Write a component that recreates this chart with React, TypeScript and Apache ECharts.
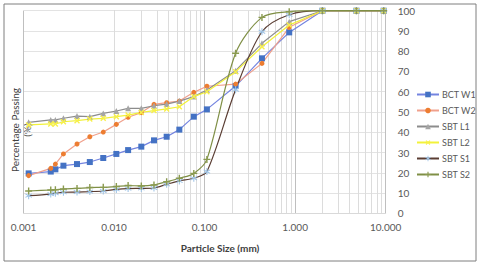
import React, { useEffect, useRef } from "react";
import * as echarts from "echarts";

const SIZES = [0.00114, 0.002, 0.00225, 0.00276, 0.0039, 0.0054, 0.0076, 0.0106, 0.0143, 0.02, 0.0276, 0.0381, 0.0526, 0.076, 0.106, 0.22, 0.43, 0.86, 2.0, 4.75, 9.5];
const BCT_W1 = [19.7, 20.6, 21.7, 23.5, 24.3, 25.3, 27.3, 29.3, 31.2, 32.9, 36.0, 37.8, 41.3, 47.7, 51.3, 62.8, 76.5, 89.3, 100, 100, 100];
const BCT_W2 = [18.6, 22.2, 24.3, 29.3, 34.2, 37.8, 40.1, 43.9, 47.4, 49.7, 53.8, 54.6, 55.4, 59.7, 62.7, 63.8, 74.0, 91.8, 100, 100, 100];
const SBT_L1 = [44.9, 46.1, 46.1, 46.9, 48.0, 47.7, 49.3, 50.5, 51.8, 51.8, 53.1, 53.9, 55.4, 57.6, 60.9, 70.4, 83.9, 94.6, 100, 100, 100];
const SBT_L2 = [43.6, 44.1, 44.1, 45.2, 45.7, 46.5, 46.9, 47.7, 48.5, 49.8, 50.7, 51.5, 52.6, 57.6, 60.0, 69.9, 82.2, 92.9, 100, 100, 100];
const SBT_S1 = [8.7, 9.5, 9.9, 10.4, 10.5, 10.7, 11.0, 11.8, 12.2, 12.3, 12.5, 14.3, 16.0, 17.3, 20.6, 61.0, 89.6, 98.0, 100, 100, 100];
const SBT_S2 = [11.0, 11.5, 11.6, 12.0, 12.3, 12.7, 12.8, 13.2, 13.7, 13.5, 14.0, 15.6, 17.3, 19.7, 26.6, 79.0, 96.7, 99.5, 100, 100, 100];

const SERIES_NAMES = ["BCT W1", "BCT W2", "SBT L1", "SBT L2", "SBT S1", "SBT S2"];
const X_TITLE = "Particle Size (mm)";
const Y_TITLE = "Percentage Passing\n(%)";

const PLUS = "path://M4,0H6V4H10V6H6V10H4V6H0V4H4Z";
const STAR = "path://M4.3,0H5.7V3.8L9,1.9L9.7,3.1L6.4,5L9.7,6.9L9,8.1L5.7,6.2V10H4.3V6.2L1,8.1L0.3,6.9L3.6,5L0.3,3.1L1,1.9L4.3,3.8Z";

export default function App() {
  const ref = useRef<HTMLDivElement>(null);
  useEffect(() => {
    if (!ref.current) return;
    document.body.style.margin = "0";
    const chart = echarts.init(ref.current, undefined, { renderer: "svg" });
    const pts = (vals: number[]) => SIZES.map((s, i) => [s, vals[i]]);
    const minors: number[] = [];
    [0.001, 0.01, 0.1, 1].forEach((d) => {
      for (let k = 2; k <= 9; k++) minors.push(+(k * d).toPrecision(3));
    });
    const font = "Lato, 'Liberation Sans', sans-serif";
    const mk = (name: string, data: number[], lineColor: string, markColor: string, symbol: string, size: number, extra: any = {}) => ({
      name,
      type: "line",
      data: pts(data),
      symbol,
      symbolSize: size,
      showSymbol: true,
      lineStyle: { color: lineColor, width: 1.2 },
      itemStyle: { color: markColor, borderWidth: 0 },
      ...extra,
    });
    chart.setOption({
      animation: false,
      backgroundColor: "#ffffff",
      textStyle: { fontFamily: font },
      grid: { left: 23.5, right: 94.3, top: 10.7, bottom: 50.7, containLabel: false },
      legend: {
        orient: "vertical",
        left: 411,
        top: 85,
        itemWidth: 22,
        itemHeight: 7,
        itemGap: 7,
        textStyle: { color: "#595959", fontSize: 9, fontFamily: font, padding: [0, 0, 0, -2] },
        data: SERIES_NAMES,
      },
      xAxis: {
        type: "log",
        logBase: 10,
        min: 0.001,
        max: 10,
        axisLine: { show: true, lineStyle: { color: "#d9d9d9" } },
        axisTick: { show: false },
        axisLabel: {
          color: "#595959",
          fontSize: 10,
          margin: 9,
          formatter: (v: number) => v.toFixed(3),
        },
        splitLine: { show: true, lineStyle: { color: "#bfbfbf", width: 1 } },
      },
      yAxis: {
        type: "value",
        position: "right",
        min: 0,
        max: 100,
        interval: 10,
        axisLine: { show: false },
        axisTick: { show: false },
        axisLabel: { color: "#595959", fontSize: 10, margin: 12 },
        splitLine: { show: true, lineStyle: { color: "#e3e3e3", width: 1 } },
      },
      graphic: [
        {
          type: "rect",
          shape: { x: 4, y: 4, width: 472, height: 257 },
          style: { fill: "none", stroke: "#7f7f7f", lineWidth: 1 },
          z: 100,
        },
        {
          type: "text",
          x: 220,
          y: 248,
          style: { text: X_TITLE, fill: "#404040", font: `bold 10px ${font}`, align: "center", verticalAlign: "middle" },
        },
        {
          type: "text",
          x: 21,
          y: 130,
          rotation: Math.PI / 2,
          style: { text: Y_TITLE, fill: "#404040", font: `10px ${font}`, align: "center", verticalAlign: "middle", lineHeight: 12 },
        },
      ],
      series: [
        {
          name: "_minor",
          type: "line",
          data: [],
          silent: true,
          markLine: {
            silent: true,
            symbol: "none",
            label: { show: false },
            lineStyle: { color: "#dcdcdc", width: 1, type: "solid" },
            data: minors.map((v) => ({ xAxis: v })),
            z: 0,
          },
          z: 0,
        },
        mk(SERIES_NAMES[0], BCT_W1, "#7484e0", "#4472C4", "rect", 6),
        mk(SERIES_NAMES[1], BCT_W2, "#f0a08c", "#ED7D31", "circle", 5),
        mk(SERIES_NAMES[2], SBT_L1, "#8c8c8c", "#A5A5A5", "triangle", 6),
        mk(SERIES_NAMES[3], SBT_L2, "#f2f23a", "#f7f04a", PLUS, 7, { symbolRotate: 45 }),
        mk(SERIES_NAMES[4], SBT_S1, "#5a3d33", "#9dc3e6", STAR, 7, { smooth: 0.3 }),
        mk(SERIES_NAMES[5], SBT_S2, "#7f8f45", "#8a9a50", PLUS, 7, { smooth: 0.3 }),
      ],
    });
    return () => chart.dispose();
  }, []);
  return <div ref={ref} style={{ width: 480, height: 264 }} />;
}
